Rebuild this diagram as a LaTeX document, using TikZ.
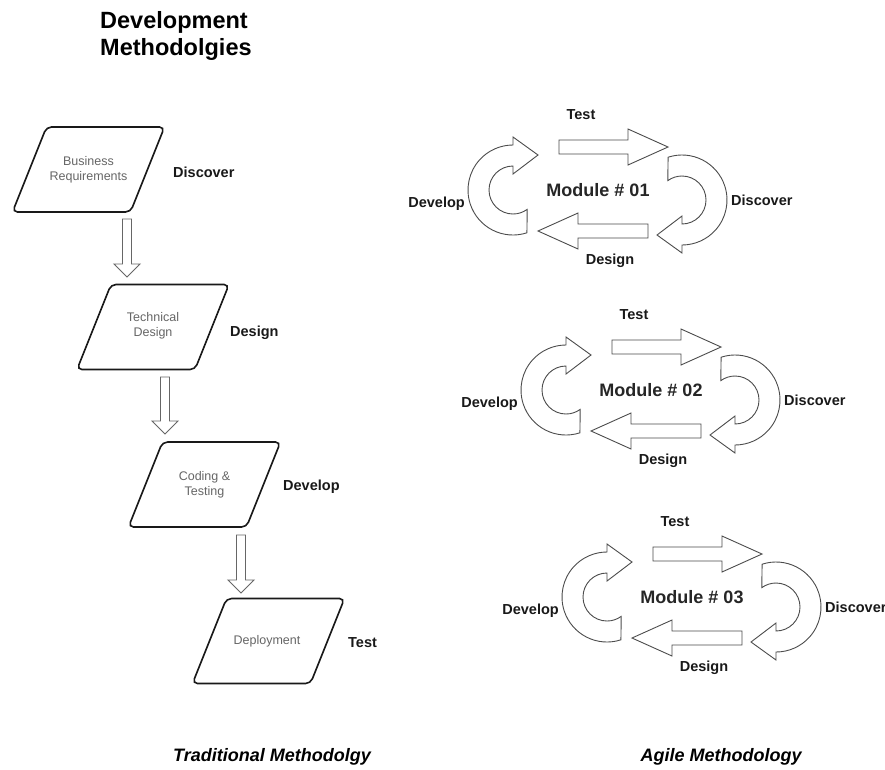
\documentclass[tikz,border=0pt]{standalone}
\usepackage{fontspec}
\setmainfont{Liberation Sans}
\usetikzlibrary{calc}
\tikzset{
  parabox/.style={draw=black!90, line width=1.6pt, rounded corners=5pt, fill=white},
  gtxt/.style={text=black!60, font=\fontsize{12.5}{15}\selectfont, align=center, inner sep=0pt},
  lab/.style={font=\fontsize{14.5}{17}\selectfont\bfseries, text=black!90, inner sep=0pt},
  modtxt/.style={font=\fontsize{18}{21}\selectfont\bfseries, text=black!85, inner sep=0pt, anchor=base},
  ttl/.style={font=\fontsize{23.5}{27}\selectfont\bfseries, inner sep=0pt, anchor=base west},
  foot/.style={font=\fontsize{18}{21}\selectfont\bfseries\itshape, inner sep=0pt, anchor=base},
  larrow/.style={draw=black!60, line width=0.9pt, fill=white, line join=miter},
  aarrow/.style={draw=black!70, line width=0.9pt, fill=white, line join=miter},
  para/.pic={\draw[parabox] (-42,-42.5) -- (76,-42.5) -- (42,42.5) -- (-76,42.5) -- cycle;},
  curv/.pic={\draw[aarrow] (72:45) arc[start angle=72,end angle=270,radius=45] -- (0,-53) -- (25,-35) -- (0,-16) -- (0,-24) arc[start angle=270,end angle=53.7,radius=24] -- cycle;}
}
\newcommand\dnarrow[2]{\draw[larrow] ($(#1)+(-4.5,0)$) -- ($(#2)+(-4.5,-13)$) -- ($(#2)+(-13,-13)$) -- (#2) -- ($(#2)+(13,-13)$) -- ($(#2)+(4.5,-13)$) -- ($(#1)+(4.5,0)$) -- cycle;}
\newcommand\hzarrow[3]{\draw[aarrow] ($(#1)+(0,-7)$) -- ($(#2)+(-40*#3,-7)$) -- ($(#2)+(-40*#3,-18)$) -- (#2) -- ($(#2)+(-40*#3,18)$) -- ($(#2)+(-40*#3,7)$) -- ($(#1)+(0,7)$) -- cycle;}
\newcommand\agilemodule[4]{%
\begin{scope}[shift={(#2,#3)}]
  \node[modtxt] (#1t) at (0,6) {Module \# #4};
  \node[lab, anchor=base] (#1test) at (-17,-71) {Test};
  \node[lab, anchor=base] (#1design) at (12,74) {Design};
  \node[lab, anchor=base east] (#1dev) at (-133,17) {Develop};
  \node[lab, anchor=base west] (#1disc) at (133,15) {Discover};
  \coordinate (#1ts) at (-39,-43); \coordinate (#1te) at (70,-43);
  \coordinate (#1bs) at (50,41); \coordinate (#1be) at (-60,41);
  \hzarrow{#1ts}{#1te}{1}
  \hzarrow{#1bs}{#1be}{-1}
  \pic at (-85,0) {curv};
  \pic[rotate=180] at (84,10) {curv};
\end{scope}}
\begin{document}
\begin{tikzpicture}[x=1pt,y=-1pt]
\useasboundingbox[fill=white] (0,0) rectangle (885,769);
% title
\node[ttl] (title1) at (100,28) {Development};
\node[ttl] (title2) at (100,55) {Methodolgies};
% traditional
\pic at (88.5,169.5) {para};
\node[gtxt] (p1) at (88.5,169.5) {Business\\Requirements};
\pic at (153,327) {para};
\node[gtxt] (p2) at (153,326) {Technical\\Design};
\pic at (204.5,484.5) {para};
\node[gtxt] (p3) at (204.5,484.5) {Coding \&\\Testing};
\pic at (268.5,641) {para};
\node[gtxt] (p4) at (267,641) {Deployment};
\node[lab, anchor=base west] (l1) at (173,177) {Discover};
\node[lab, anchor=base west] (l2) at (230,336) {Design};
\node[lab, anchor=base west] (l3) at (283,490) {Develop};
\node[lab, anchor=base west] (l4) at (348,647) {Test};
\coordinate (a1s) at (127,219); \coordinate (a1e) at (127,277);
\coordinate (a2s) at (165,377); \coordinate (a2e) at (165,434);
\coordinate (a3s) at (241,535); \coordinate (a3e) at (241,593);
\dnarrow{a1s}{a1e}
\dnarrow{a2s}{a2e}
\dnarrow{a3s}{a3e}
% agile
\agilemodule{m1}{598}{190}{01}
\agilemodule{m2}{651}{390}{02}
\agilemodule{m3}{692}{597}{03}
% footers
\node[foot] (f1) at (272,761) {Traditional Methodolgy};
\node[foot] (f2) at (721,761) {Agile Methodology};
\end{tikzpicture}
\end{document}
